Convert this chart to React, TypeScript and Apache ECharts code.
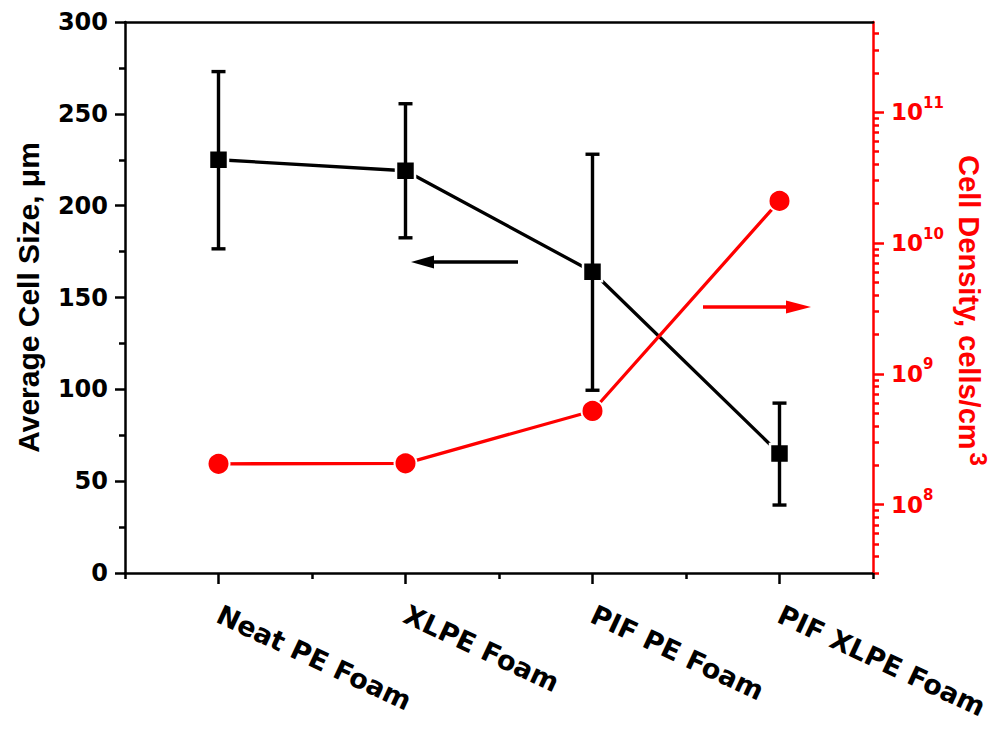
import React, { useEffect, useRef } from 'react';
import * as echarts from 'echarts';

const categories = ['Neat PE Foam', 'XLPE Foam', 'PIF PE Foam', 'PIF XLPE Foam'];
const cellSize = [225, 219, 164, 65];
const cellSizeLow = [176.5, 182.5, 99.5, 37];
const cellSizeHigh = [273, 255.5, 228, 92.5];
const cellDensity = [2.05e8, 2.07e8, 5.2e8, 2.1e10];

const sizeMin = 0;
const sizeMax = 300;
const sizeInterval = 50;

const densityMin = 3e7;
const densityMax = 4.9e11;
const densityMajorExponents = [8, 9, 10, 11];
const densityDecades = [7, 8, 9, 10, 11];
const densityMinorMultipliers = [2, 3, 4, 5, 6, 7, 8, 9];

const RED = '#ff0000';
const BLACK = '#000000';

export default function App() {
  const ref = useRef<HTMLDivElement>(null);

  useEffect(() => {
    if (!ref.current) return;
    const chart = echarts.init(ref.current, undefined, { renderer: 'svg' });

    const logMin = Math.log10(densityMin);
    const logMax = Math.log10(densityMax);
    const minorLogs: number[] = [];
    densityDecades.forEach((n) => {
      densityMinorMultipliers.forEach((k) => {
        const v = Math.log10(k * Math.pow(10, n));
        if (v >= logMin - 1e-9 && v <= logMax + 1e-9) minorLogs.push(v);
      });
    });

    const errData = categories.map((_, i) => [i, cellSizeLow[i], cellSizeHigh[i]]);

    const tickFont = { fontFamily: 'DejaVu Sans', fontWeight: 'bold' as const };
    const titleFont = { fontFamily: 'Arial', fontWeight: 'bold' as const };

    chart.setOption({
      animation: false,
      backgroundColor: '#ffffff',
      grid: {
        left: 125,
        right: 124,
        top: 22,
        bottom: 156,
        containLabel: false,
        outerBoundsMode: 'none',
      },
      xAxis: [
        {
          type: 'category',
          data: categories,
          position: 'bottom',
          axisLine: { show: true, lineStyle: { color: BLACK, width: 2.5 } },
          axisTick: { show: true, alignWithLabel: true, length: 11, lineStyle: { color: BLACK, width: 2.5 } },
          axisLabel: {
            show: true,
            rotate: -25,
            margin: 40,
            color: BLACK,
            fontSize: 27,
            ...tickFont,
            interval: 0,
          },
          splitLine: { show: false },
        },
        {
          type: 'category',
          data: categories,
          position: 'bottom',
          axisLine: { show: false },
          axisTick: { show: true, length: 6, lineStyle: { color: BLACK, width: 2.5 } },
          axisLabel: { show: false },
          splitLine: { show: false },
        },
        {
          type: 'category',
          data: categories,
          position: 'top',
          axisLine: { show: true, lineStyle: { color: BLACK, width: 2.5 } },
          axisTick: { show: false },
          axisLabel: { show: false },
          splitLine: { show: false },
        },
      ],
      yAxis: [
        {
          type: 'value',
          min: sizeMin,
          max: sizeMax,
          interval: sizeInterval,
          position: 'left',
          name: 'Average Cell Size, μm',
          nameLocation: 'middle',
          nameRotate: 90,
          nameGap: 82,
          nameTextStyle: {
            color: BLACK,
            fontSize: 30,
            ...titleFont,
          },
          axisLine: { show: true, lineStyle: { color: BLACK, width: 2.5 } },
          axisTick: { show: true, inside: false, length: 10, lineStyle: { color: BLACK, width: 2.5 } },
          minorTick: { show: true, splitNumber: 2, length: 6, lineStyle: { color: BLACK, width: 2.5 } },
          axisLabel: { color: BLACK, fontSize: 24, margin: 17, ...tickFont },
          splitLine: { show: false },
          minorSplitLine: { show: false },
        },
        {
          type: 'value',
          min: logMin,
          max: logMax,
          position: 'right',
          name: '{t|Cell Density, cells/cm}{s|3}',
          nameLocation: 'middle',
          nameRotate: -90,
          nameGap: 72,
          nameTextStyle: {
            color: RED,
            fontSize: 29,
            ...titleFont,
            padding: [0, 0, 0, 26],
            rich: {
              t: { color: RED, fontSize: 29, lineHeight: 42, ...titleFont },
              s: {
                color: RED,
                fontSize: 24,
                lineHeight: 24,
                verticalAlign: 'top',
                padding: [0, 0, 0, 3],
                ...titleFont,
              },
            },
          },
          axisLine: { show: true, lineStyle: { color: RED, width: 2.5 } },
          axisTick: {
            show: true,
            inside: false,
            length: 11,
            customValues: densityMajorExponents,
            lineStyle: { color: RED, width: 2.5 },
          },
          axisLabel: {
            show: true,
            margin: 18,
            customValues: densityMajorExponents,
            formatter: (v: number) => `{b|10}{s|${Math.round(v)}}`,
            rich: {
              b: { color: RED, fontSize: 23, lineHeight: 34, ...tickFont },
              s: { color: RED, fontSize: 15, lineHeight: 15, verticalAlign: 'top', ...tickFont },
            },
          },
          splitLine: { show: false },
        },
        {
          type: 'value',
          min: logMin,
          max: logMax,
          position: 'right',
          axisLine: { show: false },
          axisTick: {
            show: true,
            inside: false,
            length: 6,
            customValues: minorLogs,
            lineStyle: { color: RED, width: 2.5 },
          },
          axisLabel: { show: false },
          splitLine: { show: false },
        },
      ],
      series: [
        {
          name: 'Average Cell Size',
          type: 'line',
          xAxisIndex: 0,
          yAxisIndex: 0,
          data: cellSize,
          symbol: 'rect',
          symbolSize: 19,
          z: 2,
          lineStyle: { color: BLACK, width: 3.3 },
          itemStyle: { color: BLACK, borderColor: '#ffffff', borderWidth: 2.5 },
        },
        {
          name: 'Error',
          type: 'custom',
          xAxisIndex: 0,
          yAxisIndex: 0,
          z: 3,
          data: errData,
          renderItem: (params: any, api: any) => {
            const x = api.value(0);
            const lo = api.coord([x, api.value(1)]);
            const hi = api.coord([x, api.value(2)]);
            const half = 7;
            const style = { stroke: BLACK, lineWidth: 3.4 };
            return {
              type: 'group',
              children: [
                { type: 'line', shape: { x1: lo[0], y1: lo[1], x2: hi[0], y2: hi[1] }, style },
                { type: 'line', shape: { x1: hi[0] - half, y1: hi[1], x2: hi[0] + half, y2: hi[1] }, style },
                { type: 'line', shape: { x1: lo[0] - half, y1: lo[1], x2: lo[0] + half, y2: lo[1] }, style },
              ],
            };
          },
        },
        {
          name: 'Cell Size Markers',
          type: 'scatter',
          xAxisIndex: 0,
          yAxisIndex: 0,
          data: cellSize,
          symbol: 'rect',
          symbolSize: 15,
          z: 4,
          itemStyle: { color: BLACK },
        },
        {
          name: 'Cell Density',
          type: 'line',
          xAxisIndex: 0,
          yAxisIndex: 1,
          data: cellDensity.map((v) => Math.log10(v)),
          symbol: 'circle',
          symbolSize: 22,
          z: 5,
          lineStyle: { color: RED, width: 3.3 },
          itemStyle: { color: RED, borderColor: '#ffffff', borderWidth: 2 },
        },
      ],
      graphic: [
        {
          type: 'line',
          shape: { x1: 518, y1: 262, x2: 428, y2: 262 },
          style: { stroke: BLACK, lineWidth: 3.5 },
        },
        {
          type: 'polygon',
          shape: { points: [[411, 262], [434, 255.5], [434, 268.5]] },
          style: { fill: BLACK },
        },
        {
          type: 'line',
          shape: { x1: 703, y1: 307, x2: 792, y2: 307 },
          style: { stroke: RED, lineWidth: 3.5 },
        },
        {
          type: 'polygon',
          shape: { points: [[811, 307], [786, 300.5], [786, 313.5]] },
          style: { fill: RED },
        },
      ],
    });

    return () => chart.dispose();
  }, []);

  return (
    <div
      ref={ref}
      style={{ position: 'fixed', left: 0, top: 0, width: 997, height: 729, background: '#fff' }}
    />
  );
}
